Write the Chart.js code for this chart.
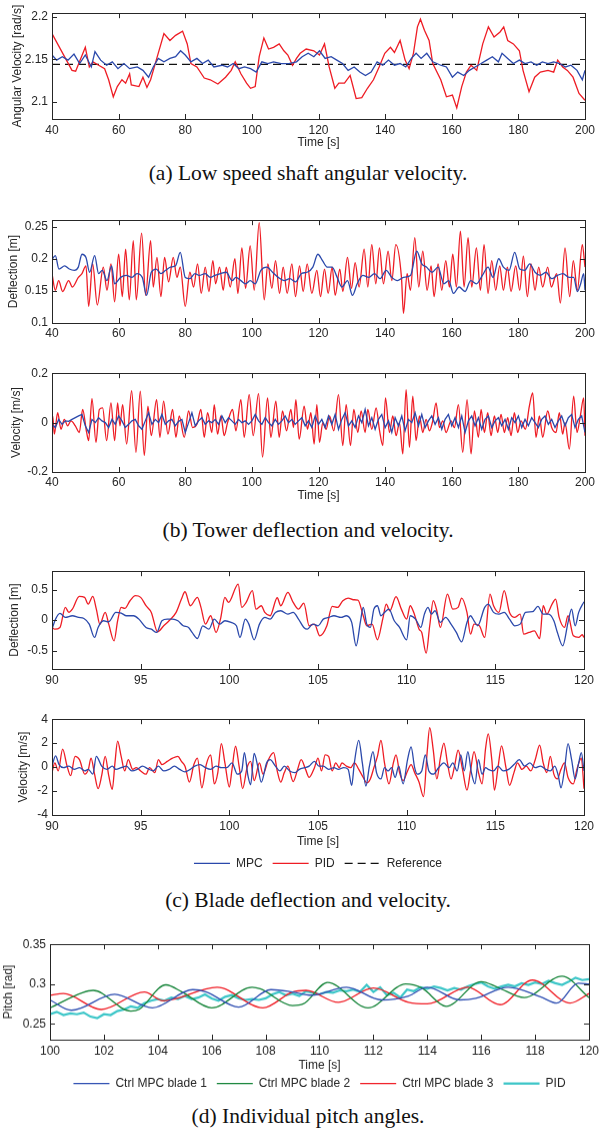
<!DOCTYPE html>
<html>
<head>
<meta charset="utf-8">
<script src="https://cdn.jsdelivr.net/npm/chart.js@4.4.1/dist/chart.umd.min.js"></script>
<style>
body { margin: 0; background: #fff; width: 603px; height: 1128px; position: relative; overflow: hidden; }
.panel { position: absolute; left: 0; width: 603px; }
.cap { position: absolute; left: 0; width: 616px; text-align: center; font-family: 'Liberation Serif', 'Times New Roman', serif; font-size: 21.5px; line-height: 24px; color: #111; }
</style>
</head>
<body>
<div class="panel"><canvas id="ca"></canvas></div>
<div class="cap" style="top:161px">(a) Low speed shaft angular velocity.</div>
<div class="panel"><canvas id="cb1"></canvas></div>
<div class="panel"><canvas id="cb2"></canvas></div>
<div class="cap" style="top:518px">(b) Tower deflection and velocity.</div>
<div class="panel"><canvas id="cc1"></canvas></div>
<div class="panel"><canvas id="cc2"></canvas></div>
<div class="cap" style="top:888px">(c) Blade deflection and velocity.</div>
<div class="panel"><canvas id="cd"></canvas></div>
<div class="cap" style="top:1104px">(d) Individual pitch angles.</div>
<script>
// ---- tick labels ----
const xTicksLong = [40, 60, 80, 100, 120, 140, 160, 180, 200]
const xTicksBlade = [90, 95, 100, 105, 110, 115, 120]
const xTicksPitch = [100, 102, 104, 106, 108, 110, 112, 114, 116, 118, 120]
const yTicksA = [2.1, 2.15, 2.2]
const yTicksB1 = [0.1, 0.15, 0.2, 0.25]
const yTicksB2 = [-0.2, 0, 0.2]
const yTicksC1 = [-0.5, 0, 0.5]
const yTicksC2 = [-4, -2, 0, 2, 4]
const yTicksD = [0.25, 0.3, 0.35]

// ---- (a) low speed shaft angular velocity ----
const aPidT = [40,46,47.1,50,51.2,52.3,54,55.8,57,58.4,59.6,61,62.1,63.3,63.8,66.1,67.3,68.5,69.6,71.3,73.6,75.4,77.1,79.2,80.6,81.7,83.5,85.7,87.5,89.8,92.1,93.8,95,96.7,98.4,99.6,101,102.2,103.6,105,106.5,108.2,109.6,110.8,112.2,113.4,114.5,116.3,118.6,120.3,121.8,123.2,124.9,126.1,127.8,129.5,131.3,133,134.7,136.5,138.2,139.9,141.6,142.8,144.5,146,147.2,148.5,149.7,150.6,151.8,153.2,154.3,156.7,158.4,160.2,161.5,163,164.4,165.8,167.5,169.3,171,172.7,174.5,175.6,176.8,178.5,180.3,181.4,183.2,184.9,186.6,188.9,190.6,191.8,193.3,194.7,196.4,198.2,200]
const aPid = [2.180,2.137,2.136,2.164,2.141,2.147,2.143,2.139,2.126,2.106,2.118,2.126,2.122,2.133,2.120,2.118,2.129,2.117,2.126,2.149,2.180,2.172,2.178,2.183,2.168,2.145,2.141,2.128,2.126,2.121,2.129,2.137,2.147,2.133,2.122,2.116,2.118,2.153,2.175,2.162,2.164,2.168,2.160,2.155,2.143,2.151,2.157,2.162,2.160,2.155,2.168,2.141,2.116,2.122,2.122,2.131,2.104,2.105,2.116,2.126,2.141,2.157,2.164,2.158,2.172,2.149,2.139,2.157,2.188,2.197,2.184,2.172,2.145,2.126,2.106,2.108,2.093,2.118,2.135,2.143,2.137,2.168,2.188,2.176,2.182,2.188,2.172,2.168,2.160,2.137,2.112,2.129,2.135,2.137,2.135,2.149,2.141,2.137,2.129,2.110,2.102]
const aMpcT = [40,41.4,43.1,44.8,46.6,48.3,50,51.8,52.9,54.6,56.4,58.1,59.8,61.6,63.3,65.6,67.3,69,70.4,71.9,73.6,75.4,77.1,78.6,80,81.7,83.5,85.2,86.9,88.6,91,92.7,94.4,96.1,97.8,99.6,101.3,103,104.8,106.5,108.8,111.1,113.4,115.1,116.9,118.6,120.3,122,123.8,125.5,127.2,128.9,130.7,132.4,134.1,135.8,137.6,139.3,141,142.8,144.5,146.2,147.9,149.3,150.8,152.5,154.3,156.7,158.4,160.2,161.8,163.6,165.3,167,168.8,170.5,172.2,174,175.1,176.8,178.5,180.3,182,183.8,185.5,187.2,188.9,190.6,192.4,194.1,195.8,197.6,199.2,200]
const aMpc = [2.155,2.149,2.153,2.149,2.156,2.145,2.155,2.141,2.159,2.149,2.143,2.147,2.139,2.145,2.139,2.141,2.137,2.129,2.141,2.151,2.147,2.151,2.153,2.160,2.155,2.147,2.151,2.145,2.149,2.141,2.143,2.141,2.145,2.139,2.141,2.139,2.135,2.147,2.145,2.147,2.145,2.145,2.147,2.153,2.157,2.153,2.160,2.151,2.153,2.149,2.145,2.137,2.141,2.135,2.131,2.135,2.147,2.143,2.149,2.143,2.145,2.141,2.151,2.157,2.151,2.157,2.147,2.143,2.141,2.129,2.135,2.131,2.137,2.141,2.145,2.149,2.153,2.147,2.157,2.151,2.145,2.149,2.145,2.147,2.143,2.147,2.145,2.147,2.145,2.141,2.143,2.137,2.126,2.137]
const aRefT = [40, 200]
const aRef = [2.144, 2.144]

// ---- (b) tower deflection ----
const b1PidT = [40,41,42,43.2,45,46.1,47.9,49,50.2,51,52.2,53.6,55.4,56.5,57.7,58.8,60,61.1,62.1,63.2,64.4,65.3,66.9,68.1,69.6,70.4,71.5,72.7,73.8,75,76.4,77.5,78.5,80,81.4,82.5,83.7,84.8,86,87.1,88.3,89.1,90.3,91.4,92.3,93.5,94.9,95.8,97,98.1,99.5,100.7,102.2,103.7,104.8,106,107.1,108.3,109.4,110.6,112,113.1,114.3,115.4,116.6,118,119.5,120.6,121.8,122.9,124.1,125,126.4,127.3,128.7,129.9,131,132.2,133.7,134.8,136,137.2,138.3,139.5,140.9,142,143.2,144.9,145.5,146.6,147.6,148.9,150.1,151.3,152.6,153.8,154.7,155.9,157,158.2,159.3,160.3,161.4,162.6,163.7,164.9,166,167.4,168.6,169.7,170.9,172,173.2,174.4,175.5,176.7,177.8,179.2,180.4,181.5,182.7,183.8,185,186.1,187.3,188.8,189.9,191.5,192.6,194,195.4,196.5,197.7,199.2,200]
const b1Pid = [0.177,0.151,0.166,0.149,0.166,0.156,0.171,0.177,0.189,0.126,0.192,0.128,0.187,0.151,0.192,0.133,0.207,0.141,0.215,0.136,0.228,0.136,0.240,0.143,0.228,0.156,0.202,0.141,0.202,0.164,0.202,0.171,0.187,0.126,0.179,0.156,0.192,0.146,0.187,0.149,0.197,0.161,0.187,0.151,0.187,0.156,0.200,0.146,0.217,0.154,0.220,0.151,0.256,0.136,0.192,0.154,0.197,0.146,0.187,0.146,0.192,0.141,0.189,0.149,0.192,0.146,0.182,0.141,0.184,0.146,0.187,0.143,0.184,0.149,0.202,0.154,0.194,0.156,0.215,0.156,0.222,0.161,0.217,0.161,0.212,0.166,0.222,0.171,0.115,0.177,0.151,0.233,0.156,0.212,0.151,0.189,0.141,0.192,0.151,0.197,0.156,0.207,0.156,0.243,0.156,0.233,0.156,0.217,0.151,0.222,0.146,0.197,0.151,0.189,0.151,0.187,0.149,0.189,0.151,0.204,0.141,0.192,0.151,0.187,0.156,0.187,0.156,0.177,0.131,0.217,0.141,0.197,0.151,0.222,0.187]
const b1MpcT = [40,41,42.1,43.8,45.2,46.7,47.9,49,50.2,51.3,52.8,54,55.1,56.5,57.9,58.8,60.6,62.3,64,65.5,67.1,68.4,69.8,71.3,72.7,74.1,75.6,77.1,78.5,80,81.4,82.9,84.2,86,87.5,88.9,90.6,92.3,94.1,95.2,96.7,98.1,99.5,101,102.7,104.5,106.2,107.9,109.7,111.4,113.1,114.9,116.6,118.3,119.8,121.2,122.6,124.1,125.6,127,128.7,130.2,131.6,133.3,135.1,136.8,138.5,140.3,142,143.7,145.5,147.6,149.5,151,152.4,154.1,155.9,157.6,159.1,160.5,162.2,164,165.7,167.4,169.2,170.9,172.4,174.1,175.5,177.2,178.9,180.4,181.9,183.4,185,186.6,188.3,190,191.7,193.4,195.2,196.6,197.7,198.7,199.6,200]
const b1Mpc = [0.199,0.205,0.184,0.189,0.184,0.182,0.187,0.207,0.202,0.179,0.205,0.177,0.182,0.166,0.189,0.161,0.171,0.174,0.171,0.177,0.171,0.143,0.179,0.184,0.177,0.182,0.187,0.189,0.210,0.171,0.169,0.177,0.174,0.177,0.171,0.174,0.177,0.179,0.166,0.171,0.166,0.161,0.166,0.161,0.182,0.187,0.179,0.171,0.166,0.169,0.164,0.177,0.179,0.187,0.207,0.197,0.187,0.187,0.171,0.156,0.166,0.143,0.161,0.174,0.171,0.177,0.169,0.182,0.171,0.166,0.171,0.174,0.212,0.192,0.187,0.179,0.187,0.161,0.166,0.146,0.156,0.149,0.166,0.161,0.174,0.187,0.171,0.200,0.187,0.182,0.210,0.184,0.182,0.192,0.179,0.174,0.179,0.169,0.174,0.177,0.171,0.171,0.149,0.161,0.177,0.151]

// ---- (b) tower velocity ----
const b2PidT = [40,40.2,40.7,41.7,42.7,43.7,44.7,45.7,47,48.2,49.2,50.4,51,52,53.2,54.2,55.2,56.4,57.7,58.8,59.7,60.4,61.2,62.4,63.9,65.2,66.5,67.7,68.8,69.8,71.4,72.4,73.5,74.8,76.2,77.2,78.2,79.7,81,82.2,83.5,84.7,85.7,86.7,88,88.7,89.7,90.7,91.7,92.7,94.2,95.2,96.7,97.7,99.2,100.4,102,103.2,104.7,105.7,107.2,108.2,109.2,110.4,111.7,112.5,113.2,114.2,115.7,116.7,117.7,118.7,119.5,120.3,121.3,122.3,123.3,124.6,126,127.3,128.3,129.6,130.6,131.8,132.8,134,134.8,136,137.3,138.3,139.3,140.1,141.3,142.3,143.3,144.3,145.3,146.3,147.3,148.3,149.3,150.3,151.3,152.3,153.3,154.3,155.3,156.3,157.3,158.3,159.8,160.8,162,163.3,164.6,165.8,166.8,168,168.8,169.8,170.8,171.8,172.8,173.8,174.8,175.8,176.8,177.8,178.8,179.8,180.8,182.1,183.3,184.3,185.3,186.3,187.3,188.8,190,191.3,192.3,193.3,194,195.3,196.6,197.6,198.6,199.6,200]
const b2Pid = [0.000,0.027,-0.047,0.040,-0.027,0.013,-0.013,0.007,-0.013,-0.040,0.053,-0.040,-0.073,0.097,-0.080,0.053,0.060,-0.073,0.080,-0.073,0.080,-0.013,0.073,-0.087,0.129,-0.120,0.127,-0.133,0.067,-0.053,0.093,-0.060,0.087,-0.047,0.053,-0.060,0.027,-0.060,0.047,-0.020,-0.007,0.053,-0.060,0.040,-0.040,0.073,-0.047,0.027,-0.053,0.000,0.053,-0.033,0.093,-0.060,0.113,-0.053,0.117,-0.140,0.100,-0.060,0.087,-0.060,0.047,-0.033,0.053,-0.020,0.093,-0.067,0.067,-0.027,0.040,-0.087,0.073,-0.080,0.000,-0.027,0.027,-0.033,0.113,-0.093,0.073,-0.093,0.053,-0.040,0.047,-0.040,0.053,-0.027,0.060,-0.030,-0.093,0.100,-0.040,0.027,-0.053,0.000,-0.127,0.133,-0.100,0.107,-0.073,0.027,-0.040,0.013,-0.033,0.007,0.080,-0.020,0.007,-0.040,0.007,-0.020,0.073,-0.120,0.093,-0.127,0.047,-0.060,0.053,-0.040,0.040,-0.053,0.027,-0.040,0.033,-0.040,0.020,-0.053,0.040,-0.040,0.007,-0.027,0.067,0.120,-0.060,0.027,-0.060,0.047,-0.020,-0.040,0.040,-0.047,0.000,-0.107,0.107,-0.040,0.027,0.100,-0.053]
// MPC velocity read once per second, 40 s .. 200 s
const b2Mpc = [-0.007,-0.020,0.013,-0.007,0.007,0.005,0.013,0.020,0.027,0.033,
  -0.013,-0.040,0.013,0.000,0.020,0.007,0.000,-0.020,0.013,-0.007,
  0.027,0.007,-0.020,-0.007,0.007,0.013,-0.013,-0.027,0.007,0.040,
  -0.007,0.013,0.000,0.033,-0.007,0.007,0.013,-0.013,0.005,0.013,
  -0.040,0.000,0.040,-0.013,0.007,0.020,-0.007,0.007,0.000,0.013,
  -0.007,0.027,0.000,0.020,0.007,-0.007,0.013,0.000,0.007,-0.007,
  0.007,0.033,0.007,-0.007,0.020,0.000,-0.013,0.013,-0.007,0.007,
  0.027,0.000,0.013,-0.007,0.007,0.020,-0.013,0.007,-0.020,0.027,
  -0.007,0.013,-0.020,0.027,-0.007,0.033,-0.027,0.013,0.040,-0.013,
  0.007,-0.020,0.027,0.000,0.053,-0.013,0.020,-0.027,0.013,0.033,
  -0.020,0.007,-0.040,0.020,-0.013,0.027,-0.033,0.013,0.000,0.040,
  -0.013,0.033,-0.020,0.007,0.027,-0.007,0.020,-0.027,0.013,0.033,
  -0.013,0.020,-0.020,0.027,-0.040,0.007,0.027,-0.013,0.020,-0.027,
  0.013,0.027,-0.020,0.007,0.020,-0.013,0.013,-0.027,0.020,0.000,
  0.027,-0.020,0.013,-0.013,0.020,0.000,-0.020,0.013,0.027,-0.007,
  0.013,-0.020,0.007,0.027,-0.013,0.020,0.033,-0.020,0.013,0.027,
  -0.040]
const b2MpcT = b2Mpc.map((v, i) => 40 + i)

// ---- (c) blade deflection ----
const c1PidT = [90,90.16,90.45,90.75,90.95,91.15,91.54,91.84,92.04,92.3,92.5,92.7,93,93.2,93.5,93.7,93.9,94.1,94.4,94.7,95,95.3,95.6,95.95,96.3,96.6,97,97.3,97.5,97.8,98.2,98.4,98.65,98.95,99.25,99.5,99.75,99.95,100.5,100.7,100.95,101.3,101.5,101.8,102,102.3,102.7,102.9,103.3,103.6,103.9,104.2,104.5,104.8,105.1,105.5,105.8,106.1,106.4,106.7,107,107.25,107.55,107.75,108.05,108.35,108.65,108.85,109.05,109.4,109.7,110,110.2,110.4,110.7,110.85,111.1,111.3,111.5,111.7,111.9,112.3,112.6,112.9,113.1,113.4,113.6,113.8,114.1,114.4,114.7,114.9,115.2,115.5,115.8,116.1,116.4,116.6,116.9,117.2,117.5,117.7,117.9,118.2,118.4,118.6,118.9,119.1,119.4,119.7,119.9,120]
const c1Pid = [-0.120,-0.148,-0.120,0.208,0.126,0.180,0.388,0.372,0.262,0.388,0.180,-0.066,0.126,-0.066,-0.339,-0.011,0.208,0.191,0.317,0.399,0.372,0.235,0.126,-0.191,-0.093,-0.011,0.126,0.344,0.464,0.235,0.372,0.208,-0.066,0.071,-0.202,0.016,0.372,0.290,0.590,0.208,0.290,0.481,0.180,0.235,0.126,0.071,0.366,0.235,0.454,0.290,0.180,0.279,-0.093,-0.066,-0.257,-0.093,0.224,0.208,0.317,0.361,0.333,0.328,0.071,-0.093,-0.066,-0.322,0.016,0.262,0.153,0.383,0.180,0.016,0.235,0.126,-0.148,-0.202,-0.541,-0.093,0.317,0.153,-0.120,0.426,0.180,0.208,0.361,0.126,-0.230,-0.066,-0.093,-0.284,0.426,0.235,0.126,0.481,0.126,0.044,0.098,-0.230,-0.202,-0.175,-0.301,0.235,0.098,0.262,0.344,0.044,-0.120,0.071,-0.257,-0.284,-0.240,-0.284]
const c1MpcT = [90,90.2,90.45,90.75,91.15,91.5,91.8,92.1,92.4,92.6,92.9,93.2,93.6,93.9,94.2,94.6,94.9,95.3,95.6,95.9,96.2,96.5,96.8,97.1,97.4,97.7,97.9,98.2,98.5,98.85,99.15,99.45,99.75,100.1,100.4,100.6,100.9,101.1,101.4,101.7,102,102.3,102.6,102.9,103.3,103.6,103.9,104.2,104.4,104.7,105,105.3,105.6,105.9,106.3,106.6,106.9,107.15,107.4,107.55,107.75,107.95,108.15,108.35,108.55,108.75,109,109.3,109.6,110,110.2,110.5,110.8,111,111.2,111.4,111.6,111.9,112.2,112.5,112.8,113.1,113.4,113.6,113.8,114,114.4,114.6,114.9,115.2,115.5,115.8,116.1,116.4,116.7,117.1,117.4,117.7,118,118.3,118.5,118.8,119.1,119.3,119.5,119.7,120]
const c1Mpc = [-0.148,0.016,0.109,0.044,0.071,0.044,0.027,-0.066,-0.284,-0.120,-0.011,-0.027,0.126,0.115,0.071,0.071,0.016,-0.120,-0.148,-0.202,-0.011,0.016,0.016,-0.011,-0.093,-0.120,-0.202,-0.301,-0.093,-0.148,0.016,-0.066,-0.011,-0.038,-0.093,-0.284,0.016,-0.066,-0.322,-0.066,0.044,0.016,0.126,0.153,0.098,0.126,0.016,-0.120,-0.148,-0.066,-0.093,0.016,0.044,0.071,0.044,0.071,-0.038,-0.421,-0.011,0.208,-0.066,-0.120,0.180,0.235,0.071,0.126,0.180,-0.011,-0.120,-0.322,0.071,0.016,-0.120,0.098,0.208,0.098,0.153,-0.038,0.044,-0.066,-0.202,-0.355,-0.038,0.071,-0.011,-0.093,0.208,0.262,0.126,0.098,0.126,0.016,-0.093,-0.066,0.126,0.137,0.224,0.098,0.098,-0.011,-0.202,-0.421,-0.038,0.180,-0.093,0.126,0.301]

// ---- (c) blade velocity ----
const c2PidT = [90,90.16,90.35,90.6,90.85,91.05,91.3,91.55,91.85,92.05,92.2,92.4,92.6,92.8,93,93.2,93.4,93.55,93.7,93.9,94.1,94.3,94.55,94.75,95,95.3,95.5,95.8,96,96.2,96.5,96.8,97.1,97.3,97.5,97.75,98,98.2,98.45,98.7,98.95,99.15,99.35,99.55,99.75,100,100.15,100.35,100.55,100.75,101,101.2,101.4,101.7,101.9,102.2,102.5,102.7,102.9,103.1,103.3,103.6,103.85,104.05,104.3,104.5,104.8,105,105.2,105.4,105.6,105.8,106,106.2,106.35,106.6,106.85,107.05,107.3,107.55,107.75,107.95,108.15,108.35,108.55,108.75,109,109.25,109.4,109.6,109.8,110.05,110.25,110.45,110.7,110.95,111.15,111.3,111.5,111.7,111.9,112.1,112.3,112.5,112.7,112.9,113.15,113.4,113.6,113.8,114.05,114.25,114.45,114.6,114.8,114.95,115.15,115.35,115.6,115.8,116.05,116.25,116.5,116.75,117,117.25,117.5,117.7,117.9,118.1,118.3,118.5,118.7,118.9,119.1,119.4,119.6,119.85,120]
const c2Pid = [-0.46,0.35,-0.32,1.50,0.08,-0.72,0.89,0.62,-0.59,-0.19,0.75,-0.59,-1.80,-0.72,0.89,-0.72,-1.85,0.35,2.17,0.89,-0.32,0.62,-0.19,-0.05,-0.32,-0.59,-0.05,-0.46,0.62,0.21,0.48,0.75,0.89,0.48,0.08,-1.26,0.21,0.75,-1.74,0.21,1.02,-1.40,-0.46,1.96,0.35,-1.66,-0.19,1.74,0.08,-1.80,-0.05,0.48,-1.13,0.35,-0.59,0.62,1.21,-0.32,-1.26,-0.46,0.08,-1.21,-0.19,0.62,-0.19,-0.86,-0.05,0.75,-0.32,1.02,0.89,-0.32,0.35,-0.05,0.35,0.08,-0.05,0.35,-0.19,-0.86,-1.32,-0.99,-0.05,0.89,2.23,0.35,-1.40,0.35,1.02,-0.46,-1.13,-0.32,0.21,-0.46,-1.26,-2.47,1.15,3.30,1.42,-0.99,0.75,2.01,0.35,-0.99,0.08,1.42,-0.19,-1.93,-0.32,1.29,-0.46,-1.40,1.56,2.77,0.62,-1.93,-0.05,1.77,-0.05,-1.53,-0.46,0.35,-0.19,0.08,-0.32,0.62,1.83,0.35,-0.46,0.89,-0.59,-0.99,-0.19,0.35,-0.86,-1.40,-0.19,0.75,-1.80]
const c2MpcT = [90,90.2,90.4,90.65,90.95,91.25,91.55,91.85,92.05,92.3,92.5,92.8,93.1,93.4,93.6,93.9,94.2,94.5,94.8,95.1,95.4,95.7,96,96.3,96.6,96.9,97.2,97.5,97.8,98.05,98.35,98.65,98.95,99.25,99.55,99.85,100.15,100.45,100.7,100.85,101.05,101.2,101.4,101.6,101.8,102.1,102.3,102.6,102.85,103.1,103.4,103.7,103.95,104.25,104.5,104.8,105.05,105.3,105.6,105.9,106.15,106.45,106.7,106.9,107.05,107.3,107.5,107.7,107.9,108.1,108.3,108.55,108.75,108.95,109.15,109.35,109.55,109.8,110.05,110.25,110.45,110.6,110.85,111.05,111.25,111.5,111.8,112.1,112.4,112.6,112.85,113.05,113.25,113.45,113.65,113.85,114.05,114.25,114.45,114.6,114.9,115.15,115.45,115.75,116.05,116.35,116.65,116.95,117.25,117.55,117.85,118.1,118.35,118.55,118.7,118.9,119.1,119.3,119.5,119.7,119.85,120]
const c2Mpc = [0.08,0.94,0.21,-0.05,0.08,-0.19,-0.05,-0.32,-0.19,-0.59,0.89,0.08,-0.19,0.08,-0.19,-0.05,0.08,-0.32,-0.19,0.08,-0.13,-0.32,0.08,-0.32,-0.19,0.08,-0.19,-0.40,-0.19,0.08,0.21,-0.05,-0.19,0.08,-0.05,-0.05,0.35,-0.59,-0.32,1.21,-0.72,-1.48,1.15,0.08,-1.26,0.35,0.62,0.08,-0.32,0.08,-0.32,-0.46,-0.19,-0.05,0.08,0.48,0.08,0.08,-0.19,-0.05,-0.19,-0.05,-0.19,-1.53,0.35,2.23,0.35,-1.58,0.08,1.29,-0.46,-0.99,-0.05,-0.32,-0.05,-0.86,0.08,-1.40,0.62,1.69,-0.05,-0.59,-0.32,1.02,-0.32,-0.59,-0.05,0.35,-0.05,0.35,-0.32,1.02,-0.32,1.29,-0.46,-1.40,0.62,-0.59,-0.05,-0.19,-0.32,0.08,-0.32,-0.19,0.21,0.62,0.08,0.35,-0.05,0.08,-0.19,-0.32,0.08,-0.72,-1.74,-0.19,1.96,0.62,-0.99,0.35,1.21,-0.32]

// ---- (d) individual pitch angles ----
const d1T = [100,100.8,102.4,103.8,105.3,105.8,107,108.2,109,109.7,111,112.3,113.3,114,115.2,115.8,117,118.2,118.8,119.6,120]
const d1 = [0.280,0.267,0.287,0.270,0.293,0.290,0.271,0.293,0.290,0.286,0.296,0.280,0.285,0.296,0.280,0.282,0.296,0.284,0.276,0.301,0.300]
const d2T = [100,101.2,101.6,103,103.3,104.3,104.9,106,107.5,107.8,109,109.4,110.3,111.8,113.2,113.8,114.7,116,116.6,117.6,119,120]
const d2 = [0.270,0.289,0.292,0.266,0.268,0.299,0.290,0.270,0.296,0.294,0.273,0.275,0.302,0.270,0.300,0.295,0.272,0.303,0.296,0.283,0.310,0.283]
const d3T = [100,100.5,101.9,103.5,104.2,106.2,107.9,109,109.5,110.7,112,113.3,114,115.5,116.7,117.9,119.3,120]
const d3 = [0.286,0.288,0.268,0.290,0.279,0.296,0.270,0.290,0.292,0.277,0.295,0.277,0.275,0.296,0.274,0.305,0.276,0.288]
// PID pitch read every 0.25 s, 100 s .. 120 s
const dPid = [0.262,0.265,0.261,0.263,0.262,0.264,0.259,0.257,0.262,0.261,
  0.266,0.268,0.272,0.270,0.276,0.279,0.281,0.279,0.283,0.281,
  0.285,0.281,0.283,0.287,0.282,0.279,0.284,0.286,0.282,0.280,
  0.281,0.280,0.282,0.287,0.290,0.286,0.288,0.285,0.291,0.289,
  0.287,0.290,0.289,0.292,0.291,0.293,0.290,0.299,0.290,0.296,
  0.286,0.289,0.283,0.293,0.291,0.296,0.294,0.297,0.295,0.292,
  0.295,0.293,0.297,0.300,0.302,0.297,0.294,0.297,0.299,0.297,
  0.301,0.299,0.302,0.300,0.304,0.301,0.299,0.303,0.308,0.305,
  0.306]
const dPidT = dPid.map((v, i) => 100 + i * 0.25)

const MPC_COL = '#2a48ab'
const PID_COL = '#ee1c24'
const TXT = '#262626'

Chart.defaults.font.family = "'Liberation Sans', Arial, sans-serif"
Chart.defaults.font.size = 12
Chart.defaults.color = TXT
Chart.defaults.animation = false

function pts(xs, ys) {
    return xs.map((x, i) => ({x: x, y: ys[i]}))
}

function line(label, xs, ys, color, extra) {
    return Object.assign({
        label: label,
        data: pts(xs, ys),
        borderColor: color,
        backgroundColor: color,
        borderWidth: 1.3,
        pointRadius: 0,
        fill: false,
        tension: 0
    }, extra || {})
}

// matlab style box with ticks pointing inwards
const boxTicks = {
    id: 'boxTicks',
    afterDatasetsDraw(chart) {
        const {ctx, chartArea: a} = chart
        const x = chart.scales.x, y = chart.scales.y
        ctx.save()
        ctx.strokeStyle = TXT
        ctx.lineWidth = 1
        ctx.beginPath()
        x.ticks.forEach(t => {
            const p = Math.round(x.getPixelForValue(t.value)) + 0.5
            ctx.moveTo(p, a.bottom); ctx.lineTo(p, a.bottom - 5)
            ctx.moveTo(p, a.top); ctx.lineTo(p, a.top + 5)
        })
        y.ticks.forEach(t => {
            const p = Math.round(y.getPixelForValue(t.value)) + 0.5
            ctx.moveTo(a.left, p); ctx.lineTo(a.left + 5, p)
            ctx.moveTo(a.right, p); ctx.lineTo(a.right - 5, p)
        })
        ctx.stroke()
        ctx.strokeRect(Math.round(a.left) + 0.5, Math.round(a.top) + 0.5, Math.round(a.right - a.left), Math.round(a.bottom - a.top))
        ctx.restore()
    }
}

// legend entries drawn as short line samples, keeping each dataset's dash and width
function legendLabels(chart) {
    return Chart.defaults.plugins.legend.labels.generateLabels(chart).map(item => {
        const ds = chart.data.datasets[item.datasetIndex]
        item.lineDash = ds.borderDash || []
        item.lineWidth = ds.borderWidth
        item.strokeStyle = ds.borderColor
        item.pointStyle = 'line'
        return item
    })
}

function panel(id, box, o) {
    const padTop = 10
    const legendH = o.legend ? 22 + o.legend.padding : 0
    const wrap = document.getElementById(id).parentNode
    wrap.style.top = (box.T - padTop) + 'px'
    wrap.style.height = (padTop + box.B - box.T + box.xh + legendH) + 'px'

    return new Chart(document.getElementById(id), {
        type: 'line',
        data: {datasets: o.datasets},
        plugins: [boxTicks],
        options: {
            responsive: true,
            maintainAspectRatio: false,
            layout: {padding: {top: padTop, right: 603 - box.R, left: 0, bottom: 0}},
            plugins: {
                tooltip: {enabled: false},
                legend: o.legend ? {
                    display: true,
                    position: 'bottom',
                    fullSize: false,
                    labels: {
                        usePointStyle: true,
                        pointStyle: 'line',
                        pointStyleWidth: 36,
                        boxWidth: 36,
                        padding: o.legend.padding,
                        color: TXT,
                        font: {size: 12},
                        generateLabels: legendLabels
                    }
                } : {display: false}
            },
            scales: {
                x: {
                    type: 'linear',
                    min: o.xTicks[0],
                    max: o.xTicks[o.xTicks.length - 1],
                    grid: {display: false, drawTicks: false},
                    border: {display: false},
                    ticks: {padding: box.tickPad, maxRotation: 0, autoSkip: false, color: TXT, callback: v => String(v)},
                    afterBuildTicks: s => { s.ticks = o.xTicks.map(v => ({value: v})) },
                    afterFit: s => { s.height = box.xh },
                    title: {display: !!o.xTitle, text: o.xTitle || '', color: TXT, font: {size: 12}, padding: {top: 0, bottom: box.xTitlePad || 0}}
                },
                y: {
                    min: o.yMin,
                    max: o.yMax,
                    grid: {display: false, drawTicks: false},
                    border: {display: false},
                    ticks: {padding: 4, autoSkip: false, color: TXT, callback: v => String(Math.round(v * 1000) / 1000)},
                    afterBuildTicks: s => { s.ticks = o.yTicks.map(v => ({value: v})) },
                    afterFit: s => { s.width = box.L },
                    title: {display: true, text: o.yTitle, color: TXT, font: {size: 12}, padding: {top: o.yTitlePad, bottom: 0}}
                }
            }
        }
    })
}

// (a)
panel('ca', {L: 52, R: 585, T: 12, B: 119, xh: 31, tickPad: 4}, {
    datasets: [
        line('MPC', aMpcT, aMpc, MPC_COL),
        line('PID', aPidT, aPid, PID_COL),
        line('Reference', aRefT, aRef, '#111', {borderDash: [8, 5], borderWidth: 1.2})
    ],
    xTicks: xTicksLong, yTicks: yTicksA, yMin: 2.08, yMax: 2.204,
    yTitle: 'Angular Velocity [rad/s]', yTitlePad: 10.8, xTitle: 'Time [s]'
})

// (b) deflection
panel('cb1', {L: 52, R: 585, T: 219, B: 323, xh: 22, tickPad: 3}, {
    datasets: [
        line('MPC', b1MpcT, b1Mpc, MPC_COL, {cubicInterpolationMode: 'monotone'}),
        line('PID', b1PidT, b1Pid, PID_COL, {cubicInterpolationMode: 'monotone'})
    ],
    xTicks: xTicksLong, yTicks: yTicksB1, yMin: 0.1, yMax: 0.26,
    yTitle: 'Deflection [m]', yTitlePad: 6.3
})

// (b) velocity
panel('cb2', {L: 52, R: 585, T: 372, B: 472, xh: 31, tickPad: 3}, {
    datasets: [
        line('MPC', b2MpcT, b2Mpc, MPC_COL),
        line('PID', b2PidT, b2Pid, PID_COL, {cubicInterpolationMode: 'monotone'})
    ],
    xTicks: xTicksLong, yTicks: yTicksB2, yMin: -0.2, yMax: 0.2,
    yTitle: 'Velocity [m/s]', yTitlePad: 9.8, xTitle: 'Time [s]'
})

// (c) deflection
panel('cc1', {L: 52, R: 584, T: 570, B: 669, xh: 22, tickPad: 4}, {
    datasets: [
        line('MPC', c1MpcT, c1Mpc, MPC_COL, {cubicInterpolationMode: 'monotone'}),
        line('PID', c1PidT, c1Pid, PID_COL, {cubicInterpolationMode: 'monotone'})
    ],
    xTicks: xTicksBlade, yTicks: yTicksC1, yMin: -0.8, yMax: 0.8,
    yTitle: 'Deflection [m]', yTitlePad: 7.3
})

// (c) velocity, carries the shared legend
panel('cc2', {L: 52, R: 584, T: 718, B: 815, xh: 32.3, tickPad: 4.5, xTitlePad: -1.6}, {
    datasets: [
        line('MPC', c2MpcT, c2Mpc, MPC_COL, {cubicInterpolationMode: 'monotone'}),
        line('PID', c2PidT, c2Pid, PID_COL, {cubicInterpolationMode: 'monotone'}),
        line('Reference', [], [], '#111', {borderDash: [8, 5], borderWidth: 1.2})
    ],
    xTicks: xTicksBlade, yTicks: yTicksC2, yMin: -4, yMax: 4,
    yTitle: 'Velocity [m/s]', yTitlePad: 16.8, xTitle: 'Time [s]',
    legend: {padding: 10}
})

// (d)
panel('cd', {L: 50, R: 590, T: 943, B: 1039, xh: 27.7, tickPad: 4, xTitlePad: -5.5}, {
    datasets: [
        line('Ctrl MPC blade 1', d1T, d1, '#2f4fb2', {cubicInterpolationMode: 'monotone'}),
        line('Ctrl MPC blade 2', d2T, d2, '#17853a', {cubicInterpolationMode: 'monotone'}),
        line('Ctrl MPC blade 3', d3T, d3, '#f01c24', {cubicInterpolationMode: 'monotone'}),
        line('PID', dPidT, dPid, '#3cc6c8', {borderWidth: 2.2})
    ],
    xTicks: xTicksPitch, yTicks: yTicksD, yMin: 0.23, yMax: 0.35,
    yTitle: 'Pitch [rad]', yTitlePad: 1.8, xTitle: 'Time [s]',
    legend: {padding: 10}
})
</script>
</body>
</html>
